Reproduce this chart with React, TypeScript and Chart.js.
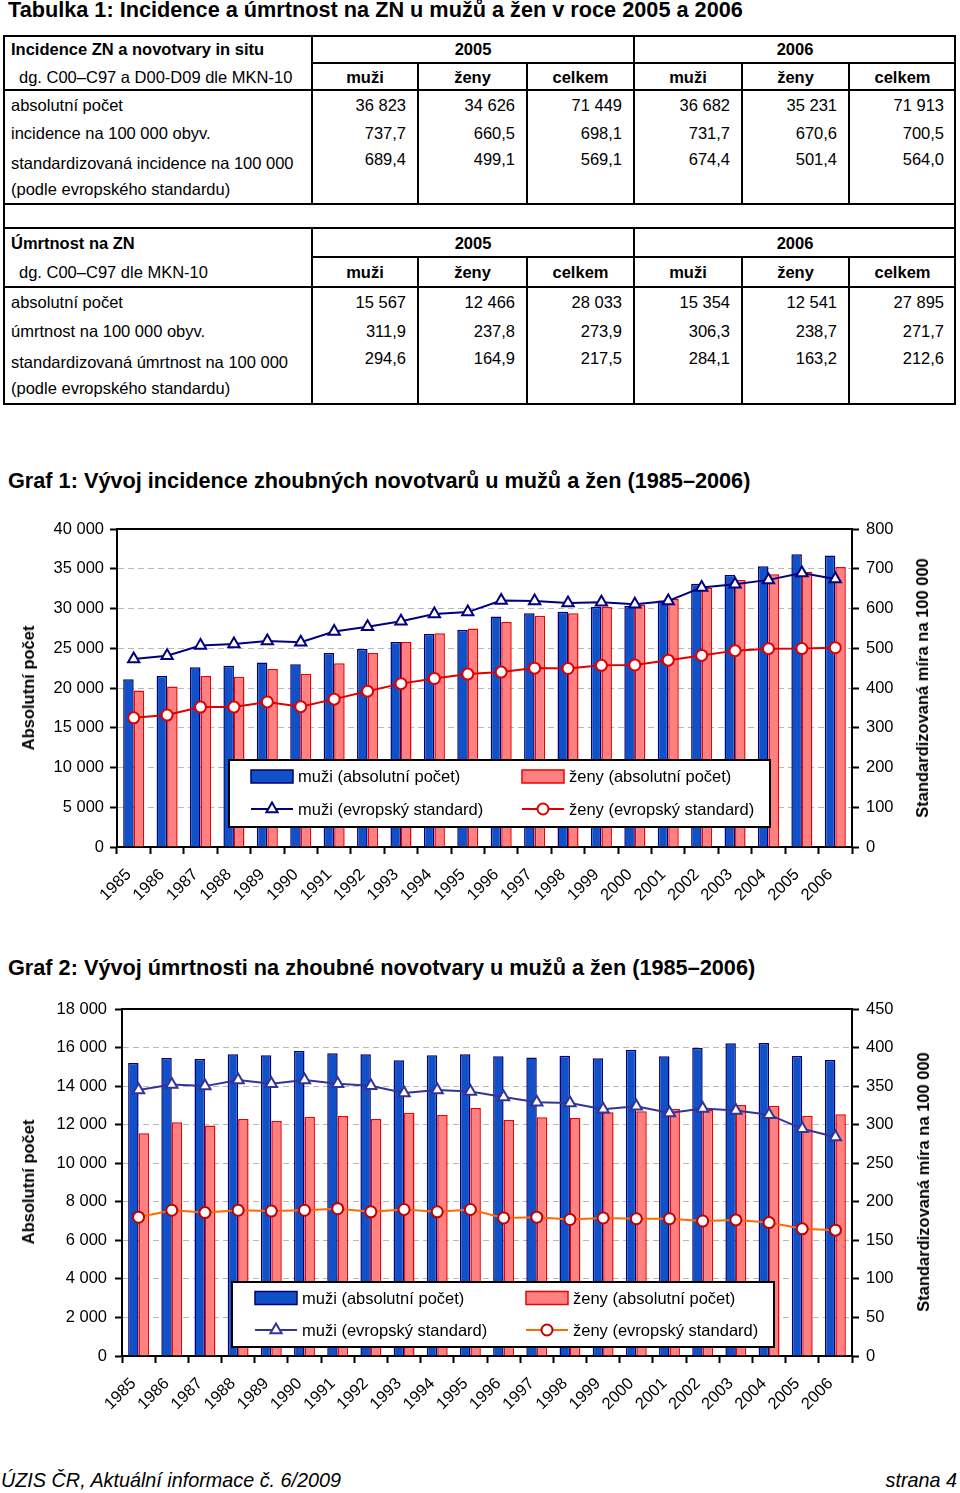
import React, { useEffect, useRef } from 'react';
import { Chart, registerables } from 'chart.js';

Chart.register(...registerables);

const FONT = "'Liberation Sans', Arial, Helvetica, sans-serif";

// ---------- Table data ----------
const tableYears = ['2005', '2006'];
const tableSubHeads = ['muži', 'ženy', 'celkem', 'muži', 'ženy', 'celkem'];

const incidenceHead = 'Incidence ZN a novotvary in situ';
const incidenceDiag = 'dg. C00–C97 a D00-D09 dle MKN-10';
const incidenceLabels = ['absolutní počet', 'incidence na 100 000 obyv.', 'standardizovaná incidence na 100 000', '(podle evropského standardu)'];
const incidenceAbs = ['36 823', '34 626', '71 449', '36 682', '35 231', '71 913'];
const incidenceRate = ['737,7', '660,5', '698,1', '731,7', '670,6', '700,5'];
const incidenceStd = ['689,4', '499,1', '569,1', '674,4', '501,4', '564,0'];

const mortalityHead = 'Úmrtnost na ZN';
const mortalityDiag = 'dg. C00–C97 dle MKN-10';
const mortalityLabels = ['absolutní počet', 'úmrtnost na 100 000 obyv.', 'standardizovaná úmrtnost na 100 000', '(podle evropského standardu)'];
const mortalityAbs = ['15 567', '12 466', '28 033', '15 354', '12 541', '27 895'];
const mortalityRate = ['311,9', '237,8', '273,9', '306,3', '238,7', '271,7'];
const mortalityStd = ['294,6', '164,9', '217,5', '284,1', '163,2', '212,6'];

// ---------- Chart data ----------
const years = ['1985', '1986', '1987', '1988', '1989', '1990', '1991', '1992', '1993', '1994', '1995', '1996', '1997', '1998', '1999', '2000', '2001', '2002', '2003', '2004', '2005', '2006'];

const incMen = [21100, 21500, 22600, 22800, 23200, 23000, 24400, 24900, 25800, 26800, 27300, 29000, 29400, 29600, 30200, 30300, 31000, 33100, 34200, 35300, 36823, 36682];
const incWomen = [19700, 20200, 21500, 21400, 22400, 21800, 23100, 24400, 25800, 26900, 27500, 28300, 29100, 29400, 30200, 30500, 31200, 32600, 33600, 34300, 34626, 35231];
const incMenStd = [473, 481, 507, 511, 518, 515, 542, 554, 568, 586, 591, 620, 619, 614, 616, 611, 619, 653, 661, 672, 689.4, 674.4];
const incWomenStd = [325, 332, 352, 352, 365, 353, 372, 392, 411, 424, 435, 440, 450, 449, 457, 458, 470, 482, 494, 499, 499.1, 501.4];

const mortMen = [15200, 15460, 15400, 15650, 15600, 15820, 15700, 15650, 15340, 15600, 15650, 15550, 15490, 15570, 15440, 15890, 15550, 15980, 16220, 16240, 15567, 15354];
const mortWomen = [11560, 12130, 11960, 12290, 12190, 12410, 12450, 12290, 12620, 12500, 12860, 12240, 12390, 12340, 12640, 12690, 12810, 12760, 13020, 12980, 12466, 12541];
const mortMenStd = [345, 352, 350, 358, 353, 358, 353, 350.5, 341, 345, 343, 336, 329, 328, 320, 324, 315, 321, 318.5, 313, 294.6, 284.1];
const mortWomenStd = [180, 189, 186, 189, 188, 189, 191, 187, 190, 187, 190, 179, 180, 177, 179, 178, 178, 175, 176.5, 173, 164.9, 163.2];

const labelMenAbs = 'muži (absolutní počet)';
const labelWomenAbs = 'ženy (absolutní počet)';
const labelMenStd = 'muži (evropský standard)';
const labelWomenStd = 'ženy (evropský standard)';

const fmtThousands = (v: number) => String(v).replace(/\B(?=(\d{3})+(?!\d))/g, ' ');

// ---------- Plugins ----------
const frameTopPlugin = {
  id: 'frameTop',
  afterDraw(chart: any) {
    const { ctx, chartArea } = chart;
    ctx.save();
    ctx.strokeStyle = '#000';
    ctx.lineWidth = 2;
    ctx.beginPath();
    ctx.moveTo(chartArea.left - 1, chartArea.top);
    ctx.lineTo(chartArea.right + 1, chartArea.top);
    ctx.stroke();
    ctx.restore();
  },
};

function drawMarker(ctx: CanvasRenderingContext2D, style: string, x: number, y: number, r: number, fill: string, stroke: string, bw: number) {
  ctx.beginPath();
  if (style === 'triangle') {
    ctx.moveTo(x, y - r);
    ctx.lineTo(x + 0.866 * r, y + 0.5 * r);
    ctx.lineTo(x - 0.866 * r, y + 0.5 * r);
    ctx.closePath();
  } else {
    ctx.arc(x, y, r, 0, Math.PI * 2);
  }
  ctx.fillStyle = fill;
  ctx.fill();
  ctx.lineWidth = bw;
  ctx.strokeStyle = stroke;
  ctx.stroke();
}

const boxLegendPlugin = {
  id: 'boxLegend',
  afterDatasetsDraw(chart: any, _args: any, opts: any) {
    if (!opts || !opts.box) return;
    const ctx: CanvasRenderingContext2D = chart.ctx;
    const { box, items, symbolW, textGap } = opts;
    ctx.save();
    ctx.fillStyle = '#fff';
    ctx.fillRect(box.x, box.y, box.w, box.h);
    ctx.lineWidth = 2;
    ctx.strokeStyle = '#000';
    ctx.strokeRect(box.x, box.y, box.w, box.h);
    items.forEach((it: any) => {
      const ds = chart.data.datasets[it.index];
      const x = it.x;
      const y = it.y;
      if (ds.type === 'line') {
        ctx.strokeStyle = ds.borderColor;
        ctx.lineWidth = 2;
        ctx.beginPath();
        ctx.moveTo(x, y);
        ctx.lineTo(x + symbolW, y);
        ctx.stroke();
        drawMarker(ctx, ds.pointStyle, x + symbolW / 2, y, ds.pointRadius, ds.pointBackgroundColor, ds.pointBorderColor, ds.pointBorderWidth);
      } else {
        ctx.fillStyle = ds.backgroundColor;
        ctx.fillRect(x, y - 6.5, symbolW, 13);
        ctx.lineWidth = 1.5;
        ctx.strokeStyle = ds.borderColor;
        ctx.strokeRect(x, y - 6.5, symbolW, 13);
      }
      ctx.fillStyle = '#000';
      ctx.font = `16.5px ${FONT}`;
      ctx.textBaseline = 'middle';
      ctx.textAlign = 'left';
      ctx.fillText(ds.label, x + symbolW + textGap, y + 1);
    });
    ctx.restore();
  },
};

// ---------- Chart component ----------
type ChartProps = {
  top: number;
  height: number;
  padTop: number;
  leftW: number;
  rightW: number;
  xH: number;
  menAbs: number[];
  womenAbs: number[];
  menStd: number[];
  womenStd: number[];
  leftMax: number;
  leftStep: number;
  rightMax: number;
  rightStep: number;
  leftPad: number;
  menLine: string;
  womenLine: string;
  womenMarker: string;
  legend: any;
};

function ComboChart(p: ChartProps) {
  const ref = useRef<HTMLCanvasElement>(null);
  useEffect(() => {
    const tickFont = { family: FONT, size: 16.5 };
    const chart = new Chart(ref.current as HTMLCanvasElement, {
      type: 'bar',
      data: {
        labels: years,
        datasets: [
          {
            type: 'line', label: labelMenStd, data: p.menStd, yAxisID: 'y1',
            borderColor: p.menLine, borderWidth: 2, pointStyle: 'triangle', pointRadius: 6.5,
            pointBackgroundColor: '#fff', pointBorderColor: p.menLine, pointBorderWidth: 2, tension: 0,
          } as any,
          {
            type: 'line', label: labelWomenStd, data: p.womenStd, yAxisID: 'y1',
            borderColor: p.womenLine, borderWidth: 2, pointStyle: 'circle', pointRadius: 5.5,
            pointBackgroundColor: '#fff', pointBorderColor: p.womenMarker, pointBorderWidth: 2, tension: 0,
          } as any,
          {
            type: 'bar', label: labelMenAbs, data: p.menAbs, yAxisID: 'y',
            backgroundColor: '#1151C8', borderColor: '#00007A', borderWidth: 1.5,
            categoryPercentage: 0.63, barPercentage: 1,
          } as any,
          {
            type: 'bar', label: labelWomenAbs, data: p.womenAbs, yAxisID: 'y',
            backgroundColor: '#FF8080', borderColor: '#F00000', borderWidth: 1.5,
            categoryPercentage: 0.63, barPercentage: 1,
          } as any,
        ],
      },
      options: {
        responsive: false,
        animation: false,
        events: [],
        layout: { padding: { top: p.padTop, left: 0, right: 0, bottom: 0 } },
        plugins: {
          legend: { display: false },
          tooltip: { enabled: false },
          boxLegend: p.legend,
        } as any,
        scales: {
          x: {
            offset: true,
            grid: { offset: true, drawOnChartArea: false, drawTicks: true, tickLength: 7, tickColor: '#000', tickWidth: 2 },
            border: { display: true, color: '#000', width: 2 },
            ticks: { autoSkip: false, minRotation: 45, maxRotation: 45, font: tickFont, color: '#000', padding: 11, labelOffset: -5 },
            afterFit: (s: any) => { s.height = p.xH; },
          },
          y: {
            position: 'left', min: 0, max: p.leftMax,
            ticks: { stepSize: p.leftStep, font: tickFont, color: '#000', padding: p.leftPad, callback: (v: any) => fmtThousands(Number(v)) },
            grid: {
              color: (c: any) => (c.tick && (c.tick.value === 0 || c.tick.value === p.leftMax) ? 'rgba(0,0,0,0)' : '#B8B8B8'),
              lineWidth: 1, tickColor: '#000', tickWidth: 2, tickLength: 7,
            },
            border: { display: true, color: '#000', width: 2, dash: [6, 4] },
            afterFit: (s: any) => { s.width = p.leftW; },
          },
          y1: {
            position: 'right', min: 0, max: p.rightMax,
            ticks: { stepSize: p.rightStep, font: tickFont, color: '#000', padding: 7 },
            grid: { drawOnChartArea: false, tickColor: '#000', tickWidth: 2, tickLength: 7 },
            border: { display: true, color: '#000', width: 2 },
            afterFit: (s: any) => { s.width = p.rightW; },
          },
        } as any,
      },
      plugins: [boxLegendPlugin, frameTopPlugin],
    } as any);
    return () => chart.destroy();
  }, []);
  return (
    <canvas
      ref={ref}
      width={960}
      height={p.height}
      style={{ position: 'absolute', left: 0, top: p.top, width: 960, height: p.height }}
    />
  );
}

// ---------- Layout helpers ----------
const H = (x1: number, x2: number, y: number) => (
  <div style={{ position: 'absolute', left: x1, top: y, width: x2 - x1, height: 2, background: '#000' }} />
);
const V = (x: number, y1: number, y2: number) => (
  <div style={{ position: 'absolute', left: x, top: y1, width: 2, height: y2 - y1, background: '#000' }} />
);

function T(props: { x: number; y: number; w?: number; align?: 'left' | 'right' | 'center'; bold?: boolean; size?: number; children: React.ReactNode }) {
  const { x, y, w, align = 'left', bold, size = 16.5, children } = props;
  const style: React.CSSProperties = {
    position: 'absolute', top: y - 10, height: 20, lineHeight: '20px', fontSize: size,
    fontWeight: bold ? 'bold' : 'normal', whiteSpace: 'nowrap',
  };
  if (align === 'left') style.left = x;
  else if (align === 'right') { style.left = x - (w || 200); style.width = w || 200; style.textAlign = 'right'; }
  else { style.left = x - (w || 200) / 2; style.width = w || 200; style.textAlign = 'center'; }
  return <div style={style}>{children}</div>;
}

const colEdges = [311, 417, 526, 633, 741, 848, 955];

function TableSection(props: {
  top: number; sub: number; data: number; bottom: number;
  yYear: number; ySub: number; rowY: number[]; valY: number[];
  head: string; diag: string; labels: string[]; rows: string[][];
}) {
  const { top, sub, data, bottom, yYear, ySub, rowY, valY, head, diag, labels, rows } = props;
  const out: React.ReactNode[] = [];
  out.push(<React.Fragment key="lines">
    {H(3, 956, top)}
    {H(311, 956, sub)}
    {H(3, 956, data)}
    {H(3, 956, bottom)}
    {V(3, top, bottom + 2)}
    {V(954, top, bottom + 2)}
    {V(311, top, bottom + 2)}
    {V(633, top, bottom + 2)}
    {V(417, sub, bottom + 2)}
    {V(526, sub, bottom + 2)}
    {V(741, sub, bottom + 2)}
    {V(848, sub, bottom + 2)}
  </React.Fragment>);
  out.push(<T key="head" x={11} y={yYear} bold>{head}</T>);
  out.push(<T key="diag" x={19} y={ySub}>{diag}</T>);
  tableYears.forEach((yr, i) => {
    const c = (colEdges[i * 3] + colEdges[i * 3 + 3]) / 2 + 1;
    out.push(<T key={'yr' + i} x={c} y={yYear} align="center" bold>{yr}</T>);
  });
  tableSubHeads.forEach((s, i) => {
    const c = (colEdges[i] + colEdges[i + 1]) / 2 + 1;
    out.push(<T key={'sh' + i} x={c} y={ySub} align="center" w={100} bold>{s}</T>);
  });
  labels.forEach((l, i) => out.push(<T key={'lb' + i} x={11} y={rowY[i]}>{l}</T>));
  rows.forEach((r, ri) => r.forEach((v, ci) => {
    out.push(<T key={'v' + ri + '_' + ci} x={colEdges[ci + 1] - 11} y={valY[ri]} align="right" w={100}>{v}</T>);
  }));
  return <>{out}</>;
}

function VTitle(props: { x: number; y: number; children: React.ReactNode }) {
  return (
    <div style={{
      position: 'absolute', left: props.x, top: props.y, transform: 'translate(-50%, -50%) rotate(-90deg)',
      fontSize: 16.5, fontWeight: 'bold', whiteSpace: 'nowrap', lineHeight: '20px',
    }}>{props.children}</div>
  );
}

const titleStyle: React.CSSProperties = { position: 'absolute', left: 8, fontSize: 21.7, fontWeight: 'bold', lineHeight: '22px', whiteSpace: 'nowrap' };

export default function App() {
  const legend1 = {
    box: { x: 229, y: 255, w: 541, h: 67 },
    symbolW: 42, textGap: 5,
    items: [
      { index: 2, x: 251, y: 271.5 },
      { index: 3, x: 522, y: 271.5 },
      { index: 0, x: 251, y: 304 },
      { index: 1, x: 522, y: 304 },
    ],
  };
  const legend2 = {
    box: { x: 232, y: 297, w: 542, h: 65 },
    symbolW: 42, textGap: 5,
    items: [
      { index: 2, x: 255, y: 313 },
      { index: 3, x: 526, y: 313 },
      { index: 0, x: 255, y: 345 },
      { index: 1, x: 526, y: 345 },
    ],
  };
  return (
    <div style={{ position: 'absolute', left: 0, top: 0, width: 960, height: 1493, fontFamily: FONT, color: '#000', background: '#fff', overflow: 'hidden' }}>
      <div style={{ ...titleStyle, top: -1 }}>
        Tabulka 1: Incidence a úmrtnost na ZN u mužů a žen v roce 2005 a 2006
      </div>

      <TableSection
        top={35} sub={62} data={89} bottom={203}
        yYear={49} ySub={77} rowY={[105, 133, 163, 189]} valY={[105, 133, 159]}
        head={incidenceHead} diag={incidenceDiag} labels={incidenceLabels}
        rows={[incidenceAbs, incidenceRate, incidenceStd]}
      />
      <TableSection
        top={227} sub={256} data={286} bottom={403}
        yYear={243} ySub={272} rowY={[302, 331, 362, 388]} valY={[302, 331, 358]}
        head={mortalityHead} diag={mortalityDiag} labels={mortalityLabels}
        rows={[mortalityAbs, mortalityRate, mortalityStd]}
      />
      {V(3, 203, 229)}
      {V(954, 203, 229)}

      <div style={{ ...titleStyle, top: 470 }}>
        Graf 1: Vývoj incidence zhoubných novotvarů u mužů a žen (1985–2006)
      </div>
      <ComboChart
        top={505} height={410} padTop={24} leftW={117} rightW={108} xH={68}
        menAbs={incMen} womenAbs={incWomen} menStd={incMenStd} womenStd={incWomenStd}
        leftMax={40000} leftStep={5000} rightMax={800} rightStep={100} leftPad={6}
        menLine="#000080" womenLine="#E00000" womenMarker="#E00000" legend={legend1}
      />
      <VTitle x={28} y={688}>Absolutní počet</VTitle>
      <VTitle x={922} y={688}>Standardizovaná míra na 100 000</VTitle>

      <div style={{ ...titleStyle, top: 957 }}>
        Graf 2: Vývoj úmrtnosti na zhoubné novotvary u mužů a žen (1985–2006)
      </div>
      <ComboChart
        top={985} height={440} padTop={24} leftW={122} rightW={108} xH={69}
        menAbs={mortMen} womenAbs={mortWomen} menStd={mortMenStd} womenStd={mortWomenStd}
        leftMax={18000} leftStep={2000} rightMax={450} rightStep={50} leftPad={8}
        menLine="#333399" womenLine="#FF6A00" womenMarker="#C00000" legend={legend2}
      />
      <VTitle x={28} y={1182}>Absolutní počet</VTitle>
      <VTitle x={923} y={1182}>Standardizovaná míra na 100 000</VTitle>

      <div style={{ position: 'absolute', left: 1, top: 1469, fontSize: 19.8, fontStyle: 'italic', lineHeight: '22px', whiteSpace: 'nowrap' }}>
        ÚZIS ČR, Aktuální informace č. 6/2009
      </div>
      <div style={{ position: 'absolute', right: 3, top: 1469, fontSize: 19.8, fontStyle: 'italic', lineHeight: '22px', whiteSpace: 'nowrap' }}>
        strana 4
      </div>
    </div>
  );
}
